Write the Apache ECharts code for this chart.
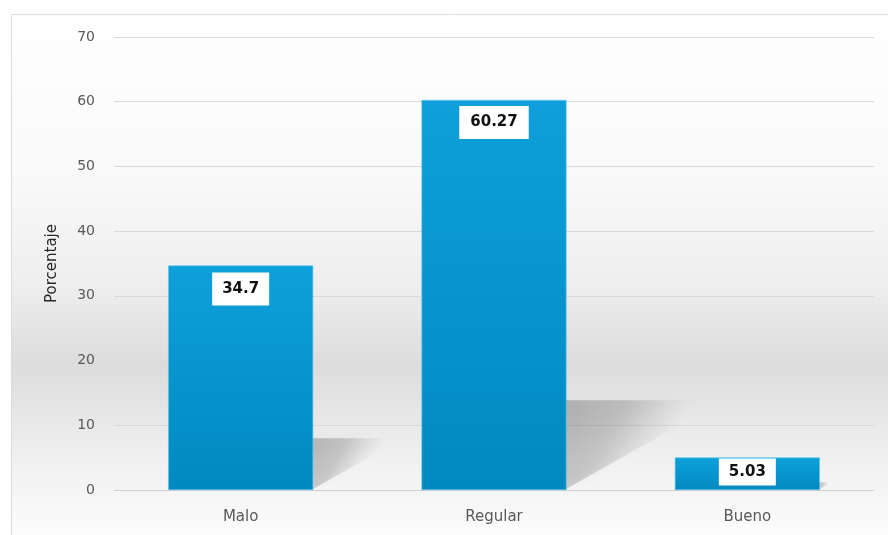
<!DOCTYPE html>
<html>
<head>
<meta charset="utf-8">
<script src="https://cdn.jsdelivr.net/npm/echarts@6/dist/echarts.min.js"></script>
<style>
html,body{margin:0;padding:0;background:#ffffff;}
#chart{width:888px;height:535px;}
</style>
</head>
<body>
<div id="chart"></div>
<script>
const categories = ['Malo', 'Regular', 'Bueno'];
const values = [34.7, 60.27, 5.03];
const labelTexts = ['34.7', '60.27', '5.03'];
const yTicks = [0, 10, 20, 30, 40, 50, 60, 70];
const yAxisName = 'Porcentaje';

const chart = echarts.init(document.getElementById('chart'), null, {renderer: 'canvas'});
const BAR_W = 145;
const labelDist = [7, 6, 1];
const labelPad = [[9, 10], [9, 11], [6, 10]];

const barData = values.map((v, i) => ({
  value: v,
  label: {
    show: true,
    position: 'insideTop',
    distance: labelDist[i],
    formatter: labelTexts[i],
    backgroundColor: '#ffffff',
    padding: labelPad[i],
    color: '#111111',
    fontWeight: 'bold',
    fontSize: 15,
    fontFamily: 'DejaVu Sans'
  }
}));

const option = {
  animation: false,
  graphic: [{
    type: 'rect',
    z: -10,
    shape: {x: 11.5, y: 14.5, width: 900, height: 540},
    style: {
      fill: new echarts.graphic.LinearGradient(0, 0, 0, 1, [
        {offset: 0, color: '#ffffff'},
        {offset: 0.3, color: '#f9f9f9'},
        {offset: 0.5, color: '#eeeeee'},
        {offset: 0.65, color: '#dcdcdc'},
        {offset: 0.82, color: '#f0f0f0'},
        {offset: 1, color: '#ffffff'}
      ]),
      stroke: '#dcdcdc',
      lineWidth: 1
    }
  }],
  grid: {left: 114, right: 14, top: 37, bottom: 45, containLabel: false},
  xAxis: {
    type: 'category',
    data: categories,
    axisTick: {show: false},
    axisLine: {show: true, lineStyle: {color: '#d0d0d0', width: 1}},
    axisLabel: {color: '#595959', fontSize: 15, fontFamily: 'DejaVu Sans', margin: 20}
  },
  yAxis: {
    type: 'value',
    min: 0, max: 70, interval: 10,
    name: yAxisName,
    nameLocation: 'middle',
    nameGap: 54,
    nameRotate: 90,
    nameTextStyle: {color: '#262626', fontSize: 15, fontFamily: 'DejaVu Sans'},
    axisLine: {show: false},
    axisTick: {show: false},
    splitLine: {lineStyle: {color: '#d9d9d9', width: 1}},
    axisLabel: {
      color: '#595959', fontSize: 14, fontFamily: 'DejaVu Sans', margin: 19,
      formatter: v => (yTicks.indexOf(v) >= 0 ? String(v) : '')
    }
  },
  series: [
    {
      type: 'custom',
      z: 1,
      silent: true,
      data: values.map((v, i) => [i, v]),
      renderItem: function (params, api) {
        const x = api.value(0), v = api.value(1);
        const base = api.coord([x, 0]);
        const top = api.coord([x, v]);
        const h = base[1] - top[1];
        const right = base[0] + BAR_W / 2;
        const dx = 0.4 * h, dy = 0.23 * h;
        return {
          type: 'polygon',
          shape: {points: [[right - 2, base[1]], [right - 2, base[1] - dy], [right + dx, base[1] - dy]]},
          style: {
            fill: new echarts.graphic.LinearGradient(0, 0, 1, 1, [
              {offset: 0, color: 'rgba(0,0,0,0.22)'},
              {offset: 0.3, color: 'rgba(0,0,0,0.16)'},
              {offset: 0.5, color: 'rgba(0,0,0,0.05)'},
              {offset: 0.62, color: 'rgba(0,0,0,0.0)'}
            ]),
            shadowBlur: 10,
            shadowColor: 'rgba(0,0,0,0.15)'
          }
        };
      }
    },
    {
      type: 'bar',
      z: 2,
      data: barData,
      barWidth: BAR_W,
      itemStyle: {
        color: new echarts.graphic.LinearGradient(0, 0, 0, 1, [
          {offset: 0, color: '#0ea0da'},
          {offset: 1, color: '#0089c1'}
        ]),
        borderColor: '#5cc8f0',
        borderWidth: 0.6
      }
    }
  ]
};
chart.setOption(option);
</script>
</body>
</html>
